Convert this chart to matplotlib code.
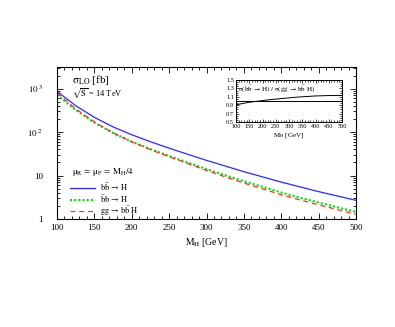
import matplotlib
matplotlib.use("Agg")
import matplotlib.pyplot as plt
from matplotlib.ticker import FixedLocator, FuncFormatter, MultipleLocator, LogLocator, NullFormatter

plt.rcParams['font.family'] = ['Liberation Serif', 'DejaVu Serif']
plt.rcParams['mathtext.fontset'] = 'stix'

mh = [100, 125, 150, 175, 200, 225, 250, 275, 300, 325, 350, 375, 400, 425, 450, 475, 500]
sigma_bbH_blue = [871, 407, 219, 132, 87.1, 60.3, 42.7, 30.9, 22.4, 16.6, 12.3, 9.33, 7.08,
                  5.50, 4.27, 3.39, 2.69]
sigma_bbH_green = [724, 324, 166, 95.5, 60.3, 40.7, 28.2, 20.0, 14.1, 10.2, 7.41, 5.50, 4.07,
                   3.09, 2.40, 1.86, 1.46]
sigma_ggbbH = [796, 345, 171, 96.5, 59.7, 39.5, 27.0, 18.9, 13.1, 9.36, 6.74, 4.95, 3.63,
               2.75, 2.12, 1.65, 1.29]

mh_ratio = [100, 125, 150, 175, 200, 225, 250, 275, 300, 325, 350, 375, 400, 425, 450, 475, 500]
ratio = [0.91, 0.94, 0.97, 0.99, 1.01, 1.03, 1.045, 1.06, 1.075, 1.09, 1.10, 1.11, 1.12,
         1.125, 1.13, 1.13, 1.13]

labels = [r'$\mathrm{b\bar{b}\,\rightarrow\,H}$',
          r'$\mathrm{\bar{b}b\,\rightarrow\,H}$',
          r'$\mathrm{gg\,\rightarrow\,b\bar{b}\;H}$']

fig = plt.figure(figsize=(3.95, 3.27), dpi=100)
ax = fig.add_axes([57/395, 1-219/327, (356-57)/395, (219-67)/327])

ax.plot(mh, sigma_bbH_blue, color='#2a2aff', lw=0.9, ls='-')
ax.plot(mh, sigma_bbH_green, color='#00e000', lw=1.5, ls=(0, (1, 1)))
ax.plot(mh, sigma_ggbbH, color='#ff2a2a', lw=0.9, ls=(0, (4, 3)))

ax.set_yscale('log')
ax.set_xlim(100, 500)
ax.set_ylim(1, 10**3.5)
ax.xaxis.set_major_locator(MultipleLocator(50))
ax.xaxis.set_minor_locator(MultipleLocator(10))
ax.yaxis.set_major_locator(FixedLocator([1, 10, 100, 1000]))
ax.yaxis.set_minor_locator(LogLocator(base=10, subs=range(2, 10)))
ax.yaxis.set_minor_formatter(NullFormatter())

def yfmt(v, pos):
    if v == 1:
        return '1'
    if v == 10:
        return '10'
    if v == 100:
        return r'$10^{\ 2}$'
    if v == 1000:
        return r'$10^{\ 3}$'
    return ''
ax.yaxis.set_major_formatter(FuncFormatter(yfmt))
ax.tick_params(which='both', direction='in', top=True, right=True, labelsize=6.5, width=0.6)
ax.tick_params(which='major', length=4)
ax.tick_params(which='minor', length=2)
ax.tick_params(axis='y', pad=10)
for s in ax.spines.values():
    s.set_linewidth(0.8)
ax.set_xlabel(r'$\mathrm{M_H}$ [GeV]', fontsize=7, labelpad=3)

ax.text(0.05, 0.915, r'$\mathrm{\sigma_{LO}}$ [fb]', transform=ax.transAxes, fontsize=8, va='center')
ax.text(0.05, 0.83, r'$\sqrt{\mathrm{S}}$ = 14 TeV', transform=ax.transAxes, fontsize=6, va='center')
ax.text(0.05, 0.31, r'$\mathrm{\mu_R\,=\,\mu_F\,=\,M_H/4}$', transform=ax.transAxes, fontsize=6.5, va='center')

leg = ax.legend(labels, loc='lower left', bbox_to_anchor=(0.04, 0.0), frameon=False,
                fontsize=6, handlelength=3.0, labelspacing=0.0, borderaxespad=0.0,
                handletextpad=0.6, borderpad=0.1)

# inset
ins = fig.add_axes([236/395, 1-122/327, (342-236)/395, (122-80)/327])
ins.plot(mh_ratio, ratio, color='black', lw=0.7)
ins.axhline(1.0, color='black', lw=0.7)
ins.set_xlim(100, 500)
ins.set_ylim(0.5, 1.5)
ins.xaxis.set_major_locator(MultipleLocator(50))
ins.xaxis.set_minor_locator(MultipleLocator(10))
ins.yaxis.set_major_locator(FixedLocator([0.5, 0.7, 0.9, 1.1, 1.3, 1.5]))
ins.yaxis.set_minor_locator(MultipleLocator(0.05))
ins.yaxis.set_major_formatter(FuncFormatter(lambda v, p: f'{v:.1f}'))
ins.tick_params(which='both', direction='in', top=True, right=True, labelsize=4.5, width=0.5, pad=1.5)
ins.tick_params(which='major', length=2.5)
ins.tick_params(which='minor', length=1.2)
for s in ins.spines.values():
    s.set_linewidth(0.7)
ins.set_xlabel(r'$\mathrm{M_H}$ [GeV]', fontsize=5, labelpad=1.5)
ins.text(0.02, 0.8, r'$\mathrm{\sigma(b\bar{b}\,\rightarrow\,H)\ /\ \sigma(gg\,\rightarrow\,b\bar{b}\ H)}$',
         transform=ins.transAxes, fontsize=5, va='center')

fig.savefig('out.png', dpi=100)
